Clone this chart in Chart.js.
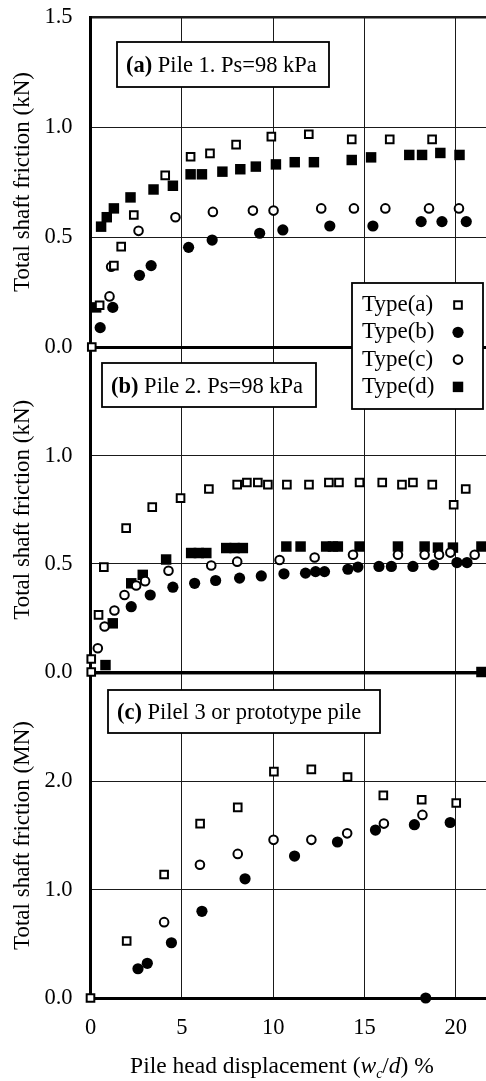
<!DOCTYPE html>
<html>
<head>
<meta charset="utf-8">
<script src="https://cdn.jsdelivr.net/npm/chart.js@4/dist/chart.umd.min.js"></script>
<style>
  html, body { margin: 0; padding: 0; background: #fff; }
  #wrap { position: relative; width: 486px; height: 1081px; overflow: hidden; }
  canvas { position: absolute; left: 0; }
</style>
</head>
<body>
<div id="wrap">
  <canvas id="panelC" width="486" height="426" style="top:655px"></canvas>
  <canvas id="panelB" width="486" height="360" style="top:330px"></canvas>
  <canvas id="panelA" width="486" height="420" style="top:0px"></canvas>
</div>
<script>
// shared x axis: pile head displacement (%)
const xTicks = [0, 5, 10, 15, 20];
const xMax = 21.65;

// (a) Pile 1, kN
const aTypeAx = [0.07, 0.5, 1.28, 1.68, 2.37, 4.09, 5.48, 6.54, 7.97, 9.9, 11.95, 14.3, 16.38, 18.7];
const aTypeAy = [0, 0.19, 0.37, 0.456, 0.60, 0.78, 0.865, 0.88, 0.92, 0.956, 0.967, 0.944, 0.944, 0.944];
const aTypeBx = [0.53, 1.22, 2.68, 3.32, 5.37, 6.66, 9.26, 10.53, 13.1, 15.46, 18.1, 19.24, 20.57];
const aTypeBy = [0.088, 0.18, 0.326, 0.37, 0.453, 0.486, 0.517, 0.532, 0.55, 0.55, 0.57, 0.57, 0.57];
const aTypeCx = [1.04, 1.13, 2.63, 4.65, 6.7, 8.89, 10.02, 12.63, 14.42, 16.14, 18.53, 20.17];
const aTypeCy = [0.23, 0.365, 0.528, 0.59, 0.614, 0.62, 0.62, 0.63, 0.63, 0.63, 0.63, 0.63];
const aTypeDx = [0.31, 0.58, 0.89, 1.28, 2.19, 3.45, 4.51, 5.48, 6.1, 7.22, 8.2, 9.05, 10.15, 11.18, 12.23, 14.3, 15.36, 17.45, 18.15, 19.15, 20.2];
const aTypeDy = [0.18, 0.547, 0.59, 0.63, 0.68, 0.716, 0.733, 0.785, 0.785, 0.797, 0.808, 0.82, 0.83, 0.84, 0.84, 0.85, 0.862, 0.873, 0.873, 0.882, 0.873];

// (b) Pile 2, kN
const bTypeAx = [0.04, 0.04, 0.44, 0.73, 1.95, 3.38, 4.93, 6.48, 8.03, 8.56, 9.16, 9.71, 10.75, 11.96, 13.05, 13.6, 14.73, 15.97, 17.05, 17.65, 18.71, 19.88, 20.54];
const bTypeAy = [0, 0.06, 0.264, 0.485, 0.665, 0.762, 0.804, 0.846, 0.866, 0.876, 0.876, 0.866, 0.866, 0.866, 0.876, 0.876, 0.876, 0.876, 0.866, 0.876, 0.866, 0.773, 0.846];
const bTypeBx = [2.23, 3.27, 4.51, 5.7, 6.85, 8.16, 9.35, 10.59, 11.77, 12.32, 12.81, 14.09, 14.64, 15.79, 16.47, 17.65, 18.78, 20.06, 20.61];
const bTypeBy = [0.302, 0.356, 0.392, 0.41, 0.423, 0.434, 0.444, 0.454, 0.457, 0.464, 0.464, 0.475, 0.485, 0.488, 0.488, 0.488, 0.495, 0.506, 0.506];
const bTypeCx = [0.4, 0.77, 1.31, 1.86, 2.5, 2.99, 4.27, 6.61, 8.03, 10.35, 12.27, 14.37, 16.83, 18.29, 19.08, 19.7, 21.03];
const bTypeCy = [0.11, 0.21, 0.284, 0.356, 0.40, 0.42, 0.468, 0.492, 0.51, 0.518, 0.529, 0.542, 0.542, 0.542, 0.542, 0.552, 0.542];
const bTypeDx = [0.82, 1.22, 2.23, 2.86, 4.14, 5.51, 5.93, 6.34, 7.43, 7.89, 8.34, 10.72, 11.5, 12.9, 13.27, 13.54, 14.73, 16.83, 18.29, 19.02, 19.84, 21.4, 21.4];
const bTypeDy = [0.032, 0.225, 0.41, 0.449, 0.52, 0.55, 0.55, 0.55, 0.573, 0.573, 0.573, 0.58, 0.58, 0.58, 0.58, 0.58, 0.58, 0.58, 0.58, 0.575, 0.575, 0.58, 0];

// (c) Pile 3 / prototype, MN
const cTypeAx = [0, 1.98, 4.03, 6.0, 8.06, 10.04, 12.09, 14.07, 16.03, 18.13, 20.02];
const cTypeAy = [0, 0.526, 1.14, 1.61, 1.76, 2.09, 2.11, 2.04, 1.87, 1.83, 1.80];
const cTypeBx = [2.6, 3.11, 4.43, 6.1, 8.46, 11.17, 13.52, 15.6, 17.73, 19.69, 18.35];
const cTypeBy = [0.27, 0.32, 0.51, 0.80, 1.10, 1.31, 1.44, 1.55, 1.60, 1.62, 0];
const cTypeCx = [4.03, 5.99, 8.06, 10.02, 12.09, 14.05, 16.06, 18.17];
const cTypeCy = [0.70, 1.23, 1.33, 1.46, 1.46, 1.52, 1.61, 1.69];

const FONT = '"Liberation Serif", "Times New Roman", serif';

const markStyle = {
    'Type(a)': { pointStyle: 'rect', pointRadius: 5.4, pointBorderWidth: 2, pointBackgroundColor: '#fff', pointBorderColor: '#000' },
    'Type(b)': { pointStyle: 'circle', pointRadius: 5.6, pointBorderWidth: 0, pointBackgroundColor: '#000', pointBorderColor: '#000' },
    'Type(c)': { pointStyle: 'circle', pointRadius: 4.3, pointBorderWidth: 2, pointBackgroundColor: '#fff', pointBorderColor: '#000' },
    'Type(d)': { pointStyle: 'rect', pointRadius: 7.4, pointBorderWidth: 0, pointBackgroundColor: '#000', pointBorderColor: '#000' }
};

function ds(label, xs, ys) {
    return Object.assign({
        label: label,
        data: xs.map((x, i) => ({ x: x, y: ys[i] })),
        showLine: false,
        clip: false
    }, markStyle[label]);
}

// write a line made of several font runs
function richText(ctx, parts, x, y, align) {
    let total = 0;
    parts.forEach(p => { ctx.font = p.font; total += ctx.measureText(p.text).width; });
    let cx = align === 'center' ? x - total / 2 : x;
    ctx.fillStyle = '#000';
    ctx.textAlign = 'left';
    parts.forEach(p => {
        ctx.font = p.font;
        ctx.fillText(p.text, cx, y + (p.dy || 0));
        cx += ctx.measureText(p.text).width;
    });
}

const panelPlugin = {
    id: 'panel',
    afterDraw(chart, args, o) {
        const ctx = chart.ctx;
        ctx.save();
        const top = o.top;
        // panel label box
        const b = o.box;
        ctx.fillStyle = '#fff';
        ctx.fillRect(b[0], b[1] - top, b[2] - b[0], b[3] - b[1]);
        ctx.strokeStyle = '#000';
        ctx.lineWidth = 1.8;
        ctx.strokeRect(b[0], b[1] - top, b[2] - b[0], b[3] - b[1]);
        ctx.textBaseline = 'alphabetic';
        richText(ctx, [
            { text: o.tag, font: 'bold 22.5px ' + FONT },
            { text: o.title, font: '22.5px ' + FONT }
        ], b[0] + 9, (b[1] + b[3]) / 2 + 7.5 - top, 'left');

        if (o.legend) {
            const L = o.legend;
            ctx.fillStyle = '#fff';
            ctx.fillRect(L[0], L[1] - top, L[2] - L[0], L[3] - L[1]);
            ctx.strokeRect(L[0], L[1] - top, L[2] - L[0], L[3] - L[1]);
            chart.data.datasets.forEach((d, i) => {
                const yy = L[1] + 22 + i * 27.3 - top;
                ctx.font = '23px ' + FONT;
                ctx.fillStyle = '#000';
                ctx.textBaseline = 'middle';
                ctx.fillText(d.label, L[0] + 10, yy);
                ctx.fillStyle = d.pointBackgroundColor;
                ctx.strokeStyle = d.pointBorderColor;
                ctx.lineWidth = d.pointBorderWidth;
                Chart.helpers.drawPoint(ctx, {
                    pointStyle: d.pointStyle, radius: d.pointRadius,
                    borderWidth: d.pointBorderWidth, rotation: 0
                }, L[2] - 25, yy);
            });
        }

        if (o.xTitle) {
            ctx.textBaseline = 'alphabetic';
            richText(ctx, [
                { text: 'Pile head displacement (', font: '23.5px ' + FONT },
                { text: 'w', font: 'italic 23.5px ' + FONT },
                { text: 'c', font: 'italic 14px ' + FONT, dy: 5 },
                { text: '/', font: '23.5px ' + FONT },
                { text: 'd', font: 'italic 23.5px ' + FONT },
                { text: ') %', font: '23.5px ' + FONT }
            ], 282, 1073 - top, 'center');
        }
        ctx.restore();
    }
};

// tick labels may hang outside the plot; don't let them shrink it
function noOverhang(s) {
    s.paddingTop = 0;
    s.paddingBottom = 0;
    s.paddingLeft = 0;
    s.paddingRight = 0;
}

function makePanel(id, p) {
    return new Chart(document.getElementById(id), {
        type: 'scatter',
        data: { datasets: p.datasets },
        plugins: [panelPlugin],
        options: {
            responsive: false,
            animation: false,
            events: [],
            layout: { autoPadding: false, padding: { top: p.padTop, bottom: p.padBottom, left: 0, right: 0 } },
            plugins: {
                legend: { display: false },
                tooltip: { enabled: false },
                panel: p.panel
            },
            scales: {
                x: {
                    type: 'linear', min: 0, max: xMax,
                    afterBuildTicks: s => { s.ticks = xTicks.map(v => ({ value: v })); },
                    afterFit: s => { s.height = p.xHeight; noOverhang(s); },
                    ticks: { display: p.showX, padding: 17, color: '#000', font: { family: FONT, size: 22.5 } },
                    grid: { color: '#1a1a1a', lineWidth: 1, drawTicks: false },
                    border: { display: true, color: '#000', width: 3 }
                },
                y: {
                    min: 0, max: p.yMax,
                    afterFit: s => { s.width = 90.5; noOverhang(s); },
                    ticks: {
                        stepSize: p.yStep, padding: 18, color: '#000',
                        font: { family: FONT, size: 22.5 },
                        callback: v => (p.hideTop && v === p.yMax) ? '' : v.toFixed(1)
                    },
                    grid: {
                        color: '#1a1a1a', drawTicks: false,
                        lineWidth: c => (c.tick && c.tick.value === p.yMax) ? 2.5 : 1
                    },
                    border: { display: true, color: '#000', width: 3 },
                    title: {
                        display: true, text: p.yTitle, color: '#000',
                        font: { family: FONT, size: 23 }, padding: { top: 9, bottom: 0 }
                    }
                }
            }
        }
    });
}

makePanel('panelC', {
    datasets: [ds('Type(a)', cTypeAx, cTypeAy), ds('Type(b)', cTypeBx, cTypeBy), ds('Type(c)', cTypeCx, cTypeCy)],
    padTop: 18, padBottom: 0, xHeight: 83, showX: true, yMax: 3, yStep: 1, hideTop: true,
    yTitle: 'Total shaft friction (MN)',
    panel: { top: 655, tag: '(c)', title: ' Pilel 3 or prototype pile', box: [108, 690, 380, 733], xTitle: true }
});

makePanel('panelB', {
    datasets: [ds('Type(a)', bTypeAx, bTypeAy), ds('Type(b)', bTypeBx, bTypeBy), ds('Type(c)', bTypeCx, bTypeCy), ds('Type(d)', bTypeDx, bTypeDy)],
    padTop: 17.5, padBottom: 18, xHeight: 0, showX: false, yMax: 1.5, yStep: 0.5, hideTop: true,
    yTitle: 'Total shaft friction (kN)',
    panel: { top: 330, tag: '(b)', title: ' Pile 2. Ps=98 kPa', box: [102, 363, 316, 407] }
});

makePanel('panelA', {
    datasets: [ds('Type(a)', aTypeAx, aTypeAy), ds('Type(b)', aTypeBx, aTypeBy), ds('Type(c)', aTypeCx, aTypeCy), ds('Type(d)', aTypeDx, aTypeDy)],
    padTop: 17, padBottom: 73, xHeight: 0, showX: false, yMax: 1.5, yStep: 0.5, hideTop: false,
    yTitle: 'Total shaft friction (kN)',
    panel: { top: 0, tag: '(a)', title: ' Pile 1. Ps=98 kPa', box: [117, 42, 329, 87], legend: [352, 283, 483, 409] }
});
</script>
</body>
</html>
